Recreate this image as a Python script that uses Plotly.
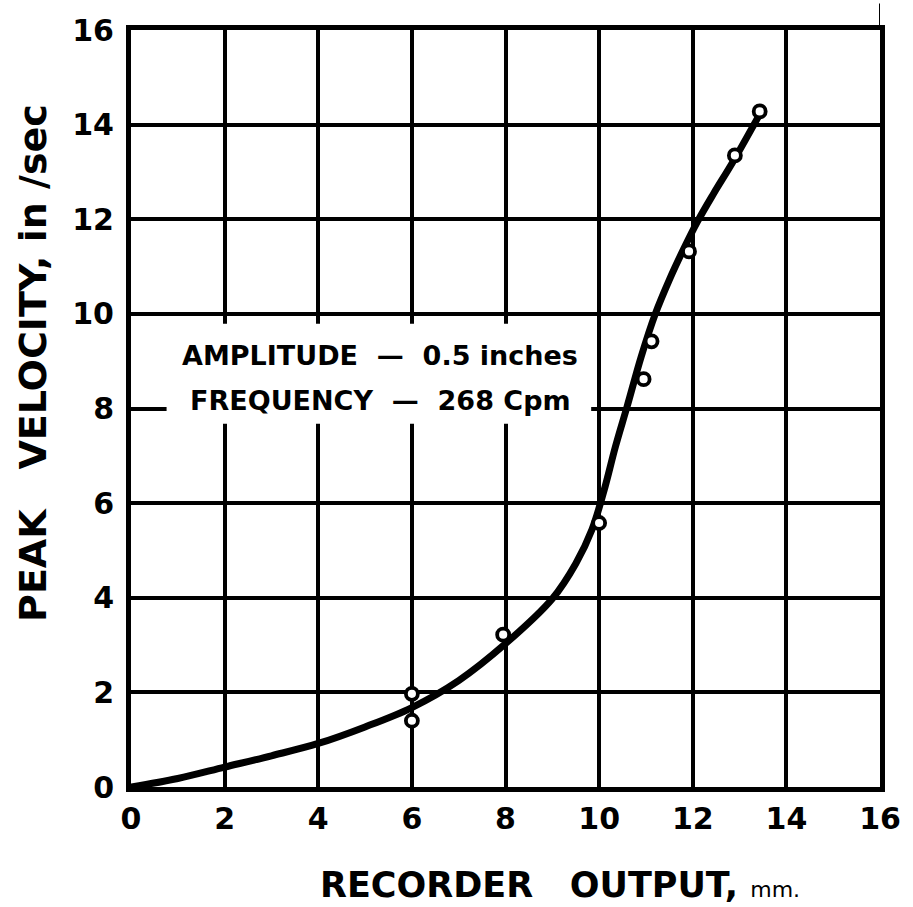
import plotly.graph_objects as go

# Measured calibration points (recorder output in mm, peak velocity in in/sec)
meas_x = [6.0, 6.0, 7.95, 10.0, 10.95, 11.12, 11.92, 12.9, 13.43]
meas_y = [1.97, 1.40, 3.22, 5.58, 8.62, 9.42, 11.32, 13.35, 14.28]

# Faired calibration curve
curve_x = [0, 1, 2, 3, 4, 5, 6, 7, 8, 9, 9.5, 9.85, 10.1, 10.35, 10.6,
           10.9, 11.2, 11.5, 11.8, 12.1, 12.45, 12.85, 13.42]
curve_y = [0, 0.18, 0.42, 0.66, 0.92, 1.27, 1.68, 2.25, 3.03, 3.98, 4.72,
           5.45, 6.25, 7.2, 8.05, 9.1, 10.0, 10.72, 11.36, 11.95, 12.55, 13.2, 14.2]

tick_vals = [0, 2, 4, 6, 8, 10, 12, 14, 16]
tick_text = ["0", "2", "4", "6", "8", "10", "12", "14", "16"]

FONT = "DejaVu Sans"
INK = "black"

fig = go.Figure()

fig.add_trace(go.Scatter(
    x=curve_x, y=curve_y, mode="lines",
    line=dict(color=INK, width=7, shape="spline", smoothing=1.0),
    hoverinfo="skip", showlegend=False,
))

fig.add_trace(go.Scatter(
    x=meas_x, y=meas_y, mode="markers",
    marker=dict(symbol="circle", size=12, color="white",
                line=dict(color=INK, width=3.8)),
    showlegend=False,
))

axis_common = dict(
    range=[0, 16], tickvals=tick_vals, ticktext=tick_text,
    showgrid=True, gridcolor=INK, gridwidth=3.5,
    zeroline=False, showline=True, linecolor=INK, linewidth=5, mirror=True,
    ticks="", tickfont=dict(family=FONT, size=30, color=INK, weight="bold"),
)

fig.update_layout(
    width=913, height=907,
    margin=dict(l=131, r=24, t=27, b=120),
    paper_bgcolor="white", plot_bgcolor="white",
    xaxis=dict(**axis_common, ticklabelstandoff=1),
    yaxis=dict(**axis_common, ticklabelstandoff=6),
    font=dict(family=FONT, color=INK),
)

# White panel behind the test-condition note
fig.add_shape(type="rect", xref="x", yref="y", x0=0.76, x1=9.83, y0=7.68, y1=9.79,
              fillcolor="white", line=dict(width=0), layer="above")

# Short extension of the right frame edge above the plot
fig.add_shape(type="line", xref="x", yref="paper", x0=16, x1=16, y0=1.0, y1=1.035,
              line=dict(color=INK, width=2))

fig.add_annotation(x=0.333, y=0.57, xref="paper", yref="paper",
                   text="AMPLITUDE  \u2014  0.5 inches", showarrow=False,
                   font=dict(family=FONT, size=27, color=INK, weight="bold"),
                   xanchor="center", yanchor="middle")
fig.add_annotation(x=0.333, y=0.511, xref="paper", yref="paper",
                   text="FREQUENCY  \u2014  268 Cpm", showarrow=False,
                   font=dict(family=FONT, size=27, color=INK, weight="bold"),
                   xanchor="center", yanchor="middle")

# Axis titles
fig.add_annotation(x=0.249, y=-0.13, xref="paper", yref="paper",
                   text="RECORDER&nbsp;&nbsp;&nbsp;OUTPUT,&nbsp;<span style='font-size:22px;font-weight:normal'>mm.</span>",
                   showarrow=False,
                   font=dict(family=FONT, size=35, color=INK, weight="bold"),
                   xanchor="left", yanchor="middle")
fig.add_annotation(x=-0.131, y=0.56, xref="paper", yref="paper",
                   text="PEAK&nbsp;&nbsp;&nbsp;VELOCITY,&nbsp;in /sec",
                   showarrow=False, textangle=-90,
                   font=dict(family=FONT, size=38, color=INK, weight="bold"),
                   xanchor="center", yanchor="middle")

fig.write_html("out.html")
